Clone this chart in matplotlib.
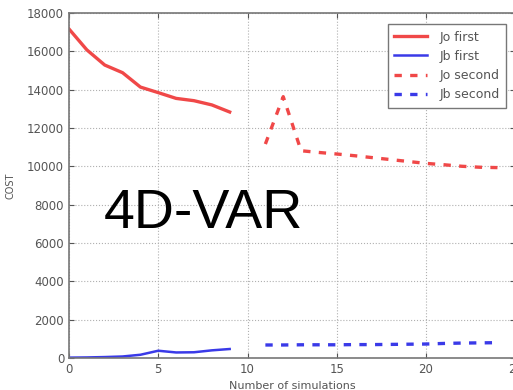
import matplotlib
matplotlib.use("Agg")
import matplotlib.pyplot as plt

x_first = [0, 1, 2, 3, 4, 5, 6, 7, 8, 9]
jo_first = [17160, 16070, 15280, 14880, 14130, 13840, 13540, 13420, 13200, 12830]
jb_first = [20, 30, 50, 80, 170, 380, 290, 300, 400, 470]

x_second = [11, 12, 13, 14, 15, 16, 17, 18, 19, 20, 21, 22, 23, 24]
jo_second = [11160, 13630, 10810, 10720, 10640, 10550, 10450, 10350, 10250,
             10150, 10080, 10000, 9950, 9930]
jb_second = [680, 680, 690, 690, 690, 700, 700, 710, 720, 730, 760, 780, 790, 800]

red = "#f04848"
blue = "#3a3ae8"
grey = "#555555"

fig = plt.figure(figsize=(5.13, 3.9), dpi=100)
ax = fig.add_axes([0.1345, 0.082, 0.87, 0.885])

ax.plot(x_first, jo_first, color=red, lw=2.4, label="Jo first")
ax.plot(x_first, jb_first, color=blue, lw=1.8, label="Jb first")
ax.plot(x_second, jo_second, color=red, lw=2.4, ls=(0, (2.2, 2.5)), label="Jo second")
ax.plot(x_second, jb_second, color=blue, lw=2.4, ls=(0, (2.2, 2.5)), label="Jb second")

ax.set_xlim(0, 25)
ax.set_ylim(0, 18000)
ax.set_xticks([0, 5, 10, 15, 20, 25])
ax.set_yticks(range(0, 18001, 2000))
ax.grid(True, color="#b0b0b0", ls=":", lw=0.8)
ax.tick_params(direction="in", top=True, right=True, labelsize=8.5,
               labelcolor=grey, color=grey)
for s in ax.spines.values():
    s.set_color("#777777")
    s.set_linewidth(1.2)

ax.set_xlabel("Number of simulations", fontsize=8, color=grey, labelpad=4)
ax.set_ylabel("COST", fontsize=7, color=grey, labelpad=8)

ax.text(0.302, 0.377, "4D-VAR", transform=ax.transAxes, fontsize=40,
        family="Liberation Sans", ha="center", va="baseline", color="black")

leg = ax.legend(loc="upper right", bbox_to_anchor=(0.993, 0.985), fontsize=9,
                fancybox=False, framealpha=1, handlelength=2.6,
                borderpad=0.5, labelspacing=0.5, handletextpad=1.0)
leg.get_frame().set_edgecolor("#777777")
for t in leg.get_texts():
    t.set_color(grey)

fig.savefig("out.png", dpi=100)
